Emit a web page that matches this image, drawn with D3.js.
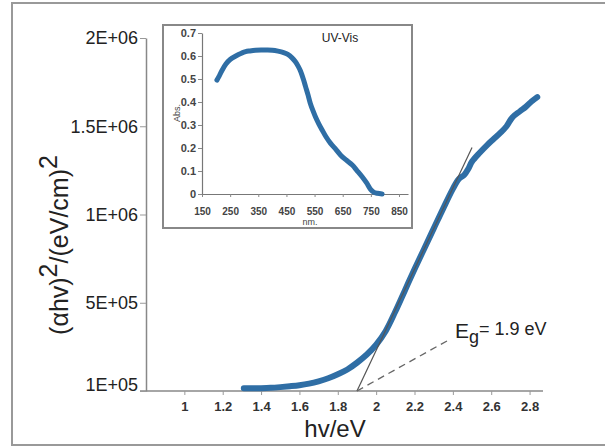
<!DOCTYPE html>
<html>
<head>
<meta charset="utf-8">
<script src="https://cdn.jsdelivr.net/npm/d3@7"></script>
<style>
  body { margin: 0; background: #fff; }
  text { font-family: "Liberation Sans", Arial, sans-serif; }
</style>
</head>
<body>
<div id="chart"></div>
<script>
// main Tauc plot
var energy = [1.31, 1.35, 1.4, 1.45, 1.5, 1.55, 1.6, 1.65, 1.7, 1.75, 1.8, 1.85, 1.9, 1.95, 2.0, 2.05, 2.1, 2.15, 2.2, 2.25, 2.3, 2.35, 2.4, 2.43, 2.46, 2.48, 2.5, 2.54, 2.58, 2.61, 2.65, 2.68, 2.71, 2.75, 2.78, 2.81, 2.84];
var tauc = [15000, 15000, 16000, 18000, 22000, 27000, 33000, 42000, 55000, 72000, 95000, 122000, 160000, 205000, 262000, 340000, 450000, 570000, 690000, 805000, 920000, 1035000, 1145000, 1200000, 1225000, 1258000, 1300000, 1350000, 1395000, 1425000, 1465000, 1500000, 1550000, 1585000, 1610000, 1640000, 1665000];
var xTicks = [1, 1.2, 1.4, 1.6, 1.8, 2, 2.2, 2.4, 2.6, 2.8];
var yTicks = [0, 500000, 1000000, 1500000, 2000000];
var yTickLabels = ["1E+05", "5E+05", "1E+06", "1.5E+06", "2E+06"];
var tangentX = [1.9, 2.5], tangentY = [0, 1380000];
var dashX = [1.9, 2.38], dashY = [0, 290000];

// inset UV-Vis
var wavelength = [203, 210, 220, 235, 250, 270, 290, 305, 320, 340, 360, 380, 400, 420, 440, 455, 470, 482, 492, 500, 510, 518, 527, 535, 545, 553, 565, 577, 590, 607, 625, 642, 662, 684, 700, 719, 735, 749, 760, 773, 790];
var absorb = [0.495, 0.51, 0.535, 0.565, 0.585, 0.6, 0.612, 0.619, 0.622, 0.625, 0.626, 0.626, 0.625, 0.621, 0.615, 0.607, 0.592, 0.575, 0.555, 0.535, 0.5, 0.467, 0.43, 0.394, 0.36, 0.336, 0.305, 0.278, 0.25, 0.22, 0.195, 0.17, 0.148, 0.126, 0.103, 0.075, 0.048, 0.02, 0.008, 0.003, 0.0];
var insetXTicks = [150, 250, 350, 450, 550, 650, 750, 850];
var insetYTicks = [0, 0.1, 0.2, 0.3, 0.4, 0.5, 0.6, 0.7];

var blue = "#2f6ea5";

var svg = d3.select("#chart").append("svg")
    .attr("width", 605)
    .attr("height", 448);

// outer frame
svg.append("rect")
    .attr("x", 12).attr("y", 3)
    .attr("width", 610).attr("height", 442)
    .attr("fill", "none")
    .attr("stroke", "#999")
    .attr("stroke-width", 2);

var x = d3.scaleLinear().domain([0.8, 2.87]).range([146, 543]);
var y = d3.scaleLinear().domain([0, 2000000]).range([391, 38]);

// x axis
var xAxis = svg.append("g")
    .attr("transform", "translate(0,391)")
    .call(d3.axisBottom(x).tickValues(xTicks).tickSize(4).tickSizeOuter(0).tickFormat(d3.format("")));
xAxis.select(".domain").attr("stroke", "#888").attr("stroke-width", 1.5)
    .attr("d", "M140,0H543");
xAxis.selectAll(".tick line").attr("stroke", "#999");
xAxis.selectAll(".tick text")
    .attr("dy", 0).attr("y", 20)
    .style("font-size", "13px").style("font-weight", "bold").attr("fill", "#333");

// y axis
var yAxis = svg.append("g")
    .attr("transform", "translate(146,0)")
    .call(d3.axisLeft(y).tickValues(yTicks).tickSize(6).tickSizeOuter(0)
        .tickFormat(function(d, i) { return yTickLabels[i]; }));
yAxis.select(".domain").attr("stroke", "#888").attr("stroke-width", 1.5);
yAxis.selectAll(".tick line").attr("stroke", "#999");
yAxis.selectAll(".tick text")
    .attr("x", -8)
    .style("font-size", "18px").attr("fill", "#222");
yAxis.selectAll(".tick").filter(function(d) { return d === 0; })
    .select("text").attr("dy", "-0.05em");

// axis titles
svg.append("text")
    .attr("x", 335).attr("y", 437)
    .attr("text-anchor", "middle")
    .style("font-size", "24px").attr("fill", "#222")
    .text("hv/eV");

var yt = svg.append("text")
    .attr("transform", "translate(68,245) rotate(-90)")
    .attr("text-anchor", "middle")
    .style("font-size", "25px").attr("fill", "#222");
yt.append("tspan").text("(αhv)");
yt.append("tspan").attr("dy", -11).text("2");
yt.append("tspan").attr("dy", 11).text("/(eV/cm)");
yt.append("tspan").attr("dy", -11).text("2");

// data curve
var line = d3.line().curve(d3.curveCatmullRom)
    .x(function(d) { return x(d[0]); })
    .y(function(d) { return y(d[1]); });

svg.append("path")
    .datum(d3.zip(energy, tauc))
    .attr("d", line)
    .attr("fill", "none")
    .attr("stroke", blue)
    .attr("stroke-width", 6)
    .attr("stroke-linecap", "round");

// tangent and dashed pointer
svg.append("path")
    .datum(d3.zip(tangentX, tangentY))
    .attr("d", d3.line().x(function(d) { return x(d[0]); }).y(function(d) { return y(d[1]); }))
    .attr("stroke", "#555").attr("stroke-width", 1.2).attr("fill", "none");

svg.append("path")
    .datum(d3.zip(dashX, dashY))
    .attr("d", d3.line().x(function(d) { return x(d[0]); }).y(function(d) { return y(d[1]); }))
    .attr("stroke", "#666").attr("stroke-width", 1.3)
    .attr("stroke-dasharray", "7,5").attr("fill", "none");

var eg = svg.append("text")
    .attr("x", 455).attr("y", 338)
    .attr("fill", "#222")
    .style("font-size", "21px");
eg.append("tspan").text("E");
eg.append("tspan").attr("dy", 5).style("font-size", "18px").text("g");
eg.append("tspan").attr("dy", -8).style("font-size", "18px").text("= 1.9 eV");

// inset
svg.append("rect")
    .attr("x", 163).attr("y", 25)
    .attr("width", 249).attr("height", 203)
    .attr("fill", "#fff")
    .attr("stroke", "#888")
    .attr("stroke-width", 2);

var ix = d3.scaleLinear().domain([150, 882]).range([202, 408]);
var iy = d3.scaleLinear().domain([0, 0.7]).range([194, 33]);

var ixAxis = svg.append("g")
    .attr("transform", "translate(0,194)")
    .call(d3.axisBottom(ix).tickValues(insetXTicks).tickSize(3).tickSizeOuter(0));
ixAxis.select(".domain").attr("stroke", "#777").attr("stroke-width", 1.2);
ixAxis.selectAll(".tick line").attr("stroke", "#888");
ixAxis.selectAll(".tick text")
    .attr("dy", 0).attr("y", 21)
    .style("font-size", "10px").style("font-weight", "bold").attr("fill", "#444");

var iyAxis = svg.append("g")
    .attr("transform", "translate(202,0)")
    .call(d3.axisLeft(iy).tickValues(insetYTicks).tickSize(4).tickSizeOuter(0).tickFormat(d3.format("")));
iyAxis.select(".domain").attr("stroke", "#777").attr("stroke-width", 1.2);
iyAxis.selectAll(".tick line").attr("stroke", "#888");
iyAxis.selectAll(".tick text")
    .attr("x", -6)
    .style("font-size", "11px").style("font-weight", "bold").attr("fill", "#444");

svg.append("path")
    .datum(d3.zip(wavelength, absorb))
    .attr("d", d3.line().curve(d3.curveCatmullRom)
        .x(function(d) { return ix(d[0]); })
        .y(function(d) { return iy(d[1]); }))
    .attr("fill", "none")
    .attr("stroke", blue)
    .attr("stroke-width", 5)
    .attr("stroke-linecap", "round");

svg.append("text")
    .attr("x", 340).attr("y", 42)
    .attr("text-anchor", "middle")
    .style("font-size", "12px").attr("fill", "#222")
    .text("UV-Vis");

svg.append("text")
    .attr("transform", "translate(180,113) rotate(-90)")
    .attr("text-anchor", "middle")
    .style("font-size", "9px").attr("fill", "#444")
    .text("Abs.");

svg.append("text")
    .attr("x", 310).attr("y", 225)
    .attr("text-anchor", "middle")
    .style("font-size", "9px").attr("fill", "#444")
    .text("nm.");
</script>
</body>
</html>
